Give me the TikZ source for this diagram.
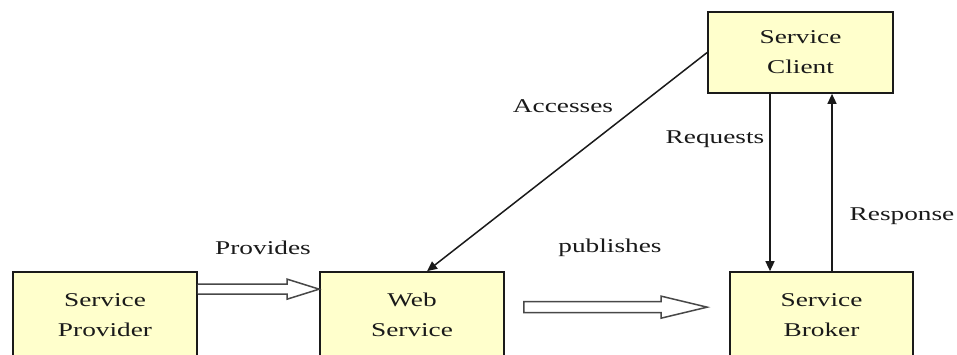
\documentclass[tikz,border=0pt]{standalone}
\usepackage{fontspec}
\setmainfont{Liberation Serif}[FakeStretch=1.4]
\usetikzlibrary{arrows.meta,calc}
\definecolor{boxfill}{HTML}{FFFFCC}
\definecolor{ink}{HTML}{1A1A1A}
\begin{document}
\begin{tikzpicture}[x=1pt,y=-1pt,
  box/.style={draw=ink,fill=boxfill,line width=1.7pt,align=center,inner sep=0pt,
    font=\fontsize{19.5}{30}\selectfont,text=ink},
  lbl/.style={font=\fontsize{19.5}{30}\selectfont,text=ink,inner sep=0pt},
  conn/.style={draw=ink,line width=1.5pt,-{Triangle[length=10pt,width=9pt]}},
  hollow/.style={draw=ink!80,fill=white,line width=1.5pt,line join=miter}]
\useasboundingbox (0,0) rectangle (957,354);
\clip (0,0) rectangle (957,354);
\fill[white] (0,0) rectangle (957,354);
% boxes
\node[box,minimum width=184pt,minimum height=86pt] (sp) at (105,315) {Service\\Provider};
\node[box,minimum width=184pt,minimum height=86pt] (ws) at (412,315) {Web\\Service};
\node[box,minimum width=183pt,minimum height=86pt] (sb) at (821.5,315) {Service\\Broker};
\node[box,minimum width=185pt,minimum height=81pt] (cl) at (800.5,52.5) {Service\\Client};
% hollow arrows
\coordinate (pa) at ($(sp.north east)+(0,18)$);
\coordinate (pat) at ($(ws.north west)+(0,18)$);
\draw[hollow] ($(pa)+(0,-5)$) -- ($(pat)+(-32,-5)$) -- ($(pat)+(-32,-10)$) -- (pat)
  -- ($(pat)+(-32,10)$) -- ($(pat)+(-32,5)$) -- ($(pa)+(0,5)$);
\coordinate (pb) at ($(ws.north east)+(19,36)$);
\coordinate (pbt) at ($(sb.north west)+(-22,36)$);
\draw[hollow] ($(pb)+(0,-5.5)$) -- ($(pbt)+(-46,-5.5)$) -- ($(pbt)+(-46,-11)$) -- (pbt)
  -- ($(pbt)+(-46,11)$) -- ($(pbt)+(-46,5.5)$) -- ($(pb)+(0,5.5)$) -- cycle;
% connectors
\draw[conn] (cl.west) -- ([xshift=15pt]ws.north);
\draw[conn] ([xshift=-30.5pt]cl.south) -- ([xshift=-30.5pt]cl.south |- sb.north);
\draw[conn] ([xshift=31.5pt]cl.south |- sb.north) -- ([xshift=31.5pt]cl.south);
% labels
\node[lbl] (lprov) at (263,248) {Provides};
\node[lbl] (lpub) at (610,248) {publishes};
\node[lbl] (lacc) at (563,106) {Accesses};
\node[lbl] (lreq) at (715,139) {Requests};
\node[lbl] (lres) at (902,216) {Response};
\end{tikzpicture}
\end{document}
